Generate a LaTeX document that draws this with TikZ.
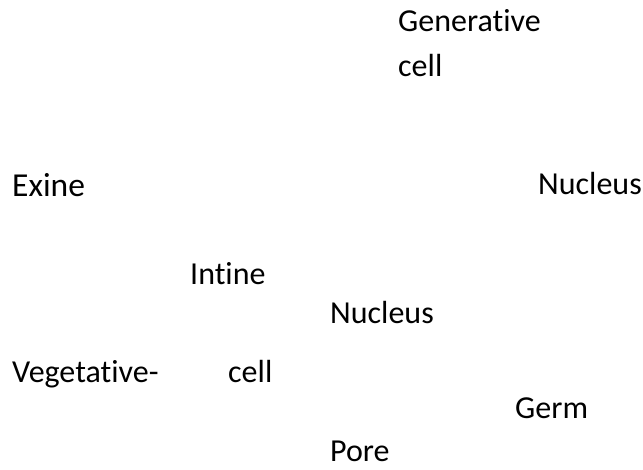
\documentclass[tikz,border=0pt]{standalone}
\usepackage{fontspec}
\setmainfont[Ligatures=NoCommon]{Carlito}
\begin{document}
\begin{tikzpicture}[x=1pt,y=-1pt,
  lbl/.style={anchor=base west,inner sep=0pt,font=\fontsize{32}{38}\selectfont},
  biglbl/.style={lbl,font=\fontsize{33.5}{40}\selectfont}]
\useasboundingbox (0,0) rectangle (643,470);
% labels of the pollen grain parts
\node[lbl] (gen) at (398,32) {Generative};
\node[lbl] (gencell) at (398,77) {cell};
\node[biglbl] (exine) at (12,197) {Exine};
\node[lbl] (nucgen) at (538,195) {Nucleus};
\node[lbl] (intine) at (190,285) {Intine};
\node[lbl] (nucveg) at (330,324) {Nucleus};
\node[lbl] (veg) at (12,383) {Vegetative-};
\node[lbl] (vegcell) at (228,383) {cell};
\node[lbl] (germ) at (515,419) {Germ};
\node[lbl] (pore) at (330,461) {Pore};
\end{tikzpicture}
\end{document}
